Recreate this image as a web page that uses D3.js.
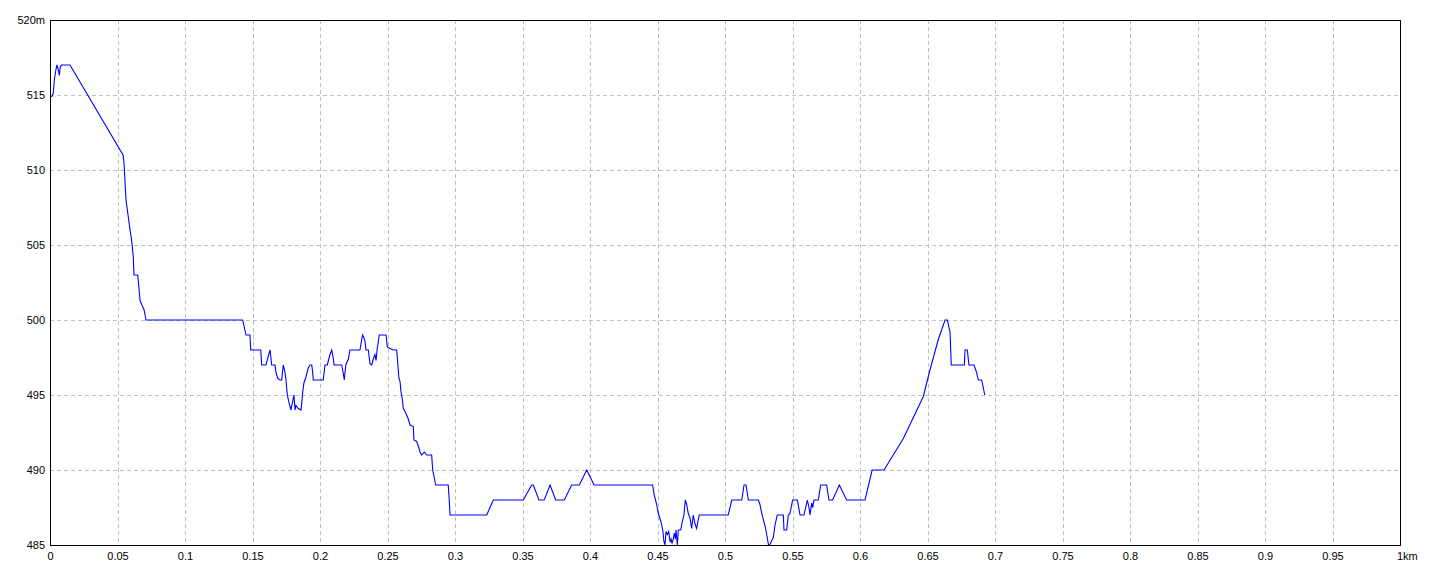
<!DOCTYPE html>
<html>
<head>
<meta charset="utf-8">
<script src="https://cdn.jsdelivr.net/npm/d3@7"></script>
<style>
  html, body { margin: 0; padding: 0; background: #ffffff; }
  svg { display: block; }
  text { font-family: "Liberation Sans", Arial, sans-serif; font-size: 11px; fill: #000; }
</style>
</head>
<body>
<svg id="chart" width="1440" height="576"></svg>
<script>
// ---- data ----
const distanceKm = [
  0.0000, 0.0013, 0.0024, 0.0032, 0.0044, 0.0052, 0.0061, 0.0069, 0.0076, 0.0087, 0.0148,
  0.0541, 0.0548, 0.0563, 0.0578, 0.0593, 0.0605, 0.0617, 0.0622, 0.0650, 0.0667, 0.0681, 0.0696, 0.0711,
  0.1427, 0.1452, 0.1481, 0.1487, 0.1561, 0.1568, 0.1600, 0.1617, 0.1630, 0.1635, 0.1642, 0.1667,
  0.1674, 0.1687, 0.1704, 0.1716, 0.1728, 0.1741, 0.1748, 0.1758, 0.1773, 0.1785, 0.1798, 0.1807,
  0.1815, 0.1822, 0.1839, 0.1859, 0.1864, 0.1872, 0.1881, 0.1896, 0.1913, 0.1926, 0.1939, 0.1946,
  0.1950, 0.2024, 0.2037, 0.2054, 0.2074, 0.2087, 0.2099, 0.2104, 0.2161, 0.2173, 0.2180, 0.2191,
  0.2210, 0.2222, 0.2296, 0.2309, 0.2316, 0.2326, 0.2333, 0.2341, 0.2358, 0.2370, 0.2383, 0.2395,
  0.2407, 0.2415, 0.2424, 0.2439, 0.2489, 0.2499, 0.2519, 0.2543, 0.2568, 0.2576, 0.2585, 0.2593,
  0.2600, 0.2610, 0.2617, 0.2630, 0.2654, 0.2667, 0.2691, 0.2696, 0.2716, 0.2728, 0.2741, 0.2753,
  0.2773, 0.2790, 0.2827, 0.2835, 0.2844, 0.2857, 0.2950, 0.2958, 0.2963, 0.3235, 0.3284, 0.3506,
  0.3568, 0.3580, 0.3622, 0.3661, 0.3704, 0.3746, 0.3810, 0.3864, 0.3921, 0.3976, 0.4030, 0.4464,
  0.4474, 0.4494, 0.4506, 0.4524, 0.4539, 0.4548, 0.4556, 0.4563, 0.4573, 0.4583, 0.4593, 0.4600,
  0.4607, 0.4617, 0.4624, 0.4632, 0.4637, 0.4647, 0.4654, 0.4672, 0.4687, 0.4696, 0.4706, 0.4716,
  0.4728, 0.4741, 0.4753, 0.4765, 0.4778, 0.4790, 0.4802, 0.4810, 0.5024, 0.5050, 0.5124, 0.5141,
  0.5156, 0.5173, 0.5247, 0.5259, 0.5272, 0.5296, 0.5309, 0.5324, 0.5358, 0.5370, 0.5387, 0.5432,
  0.5437, 0.5457, 0.5469, 0.5481, 0.5501, 0.5536, 0.5556, 0.5585, 0.5610, 0.5622, 0.5630, 0.5642,
  0.5650, 0.5659, 0.5691, 0.5709, 0.5753, 0.5770, 0.5797, 0.5847, 0.5901, 0.6037, 0.6090, 0.6178,
  0.6321, 0.6469, 0.6519, 0.6580, 0.6630, 0.6647, 0.6667, 0.6672, 0.6676, 0.6773, 0.6778, 0.6795,
  0.6807, 0.6844, 0.6864, 0.6876, 0.6901, 0.6913, 0.6924
];
const elevationM = [
  514.9, 514.9, 515.1, 516.0, 516.7, 517.0, 516.7, 516.3, 516.9, 517.0, 517.0,
  511.0, 510.5, 508.0, 507.0, 506.0, 505.3, 504.2, 503.0, 503.0, 501.3, 501.0, 500.7, 500.0,
  500.0, 499.0, 499.0, 498.0, 498.0, 497.0, 497.0, 497.6, 498.0, 497.6, 497.0, 497.0,
  496.5, 496.1, 496.0, 496.0, 497.0, 496.5, 496.0, 495.0, 494.4, 494.0, 494.6, 495.0,
  494.0, 494.3, 494.1, 494.0, 494.4, 495.2, 495.8, 496.2, 496.8, 497.0, 497.0, 496.5,
  496.0, 496.0, 497.0, 497.0, 497.7, 498.0, 497.4, 497.0, 497.0, 496.4, 496.0, 497.0,
  497.4, 498.0, 498.0, 498.7, 499.0, 498.8, 498.6, 498.0, 498.0, 497.1, 497.0, 497.4,
  497.7, 497.3, 498.1, 499.0, 499.0, 498.2, 498.1, 498.0, 498.0, 497.1, 496.1, 495.9,
  495.2, 494.7, 494.1, 493.9, 493.4, 493.0, 492.9, 492.0, 491.9, 491.6, 491.2, 491.0,
  491.2, 491.0, 491.0, 490.0, 489.6, 489.0, 489.0, 487.9, 487.0, 487.0, 488.0, 488.0,
  489.0, 489.0, 488.0, 488.0, 489.0, 488.0, 488.0, 489.0, 489.0, 490.0, 489.0, 489.0,
  488.4, 487.7, 487.1, 486.6, 486.0, 485.2, 485.0, 485.9, 485.7, 485.9, 485.2, 485.4,
  485.1, 485.4, 485.8, 485.4, 486.0, 485.0, 486.0, 486.0, 486.7, 487.0, 488.0, 487.7,
  487.1, 486.8, 486.1, 487.0, 486.4, 486.1, 486.7, 487.0, 487.0, 488.0, 488.0, 489.0,
  489.0, 488.0, 488.0, 487.7, 487.1, 486.3, 485.7, 484.9, 485.5, 486.3, 487.0, 487.0,
  486.0, 486.0, 487.0, 487.1, 488.0, 488.0, 487.0, 487.0, 488.0, 487.5, 487.0, 487.8,
  487.5, 488.0, 488.0, 489.0, 489.0, 488.0, 488.0, 489.0, 488.0, 488.0, 490.0, 490.0,
  492.1, 494.9, 496.7, 498.7, 500.0, 500.0, 499.2, 498.0, 497.0, 497.0, 498.0, 498.0,
  497.0, 497.0, 496.5, 496.0, 496.0, 495.5, 495.0
];
const xTickValues = [0, 0.05, 0.1, 0.15, 0.2, 0.25, 0.3, 0.35, 0.4, 0.45, 0.5, 0.55, 0.6, 0.65, 0.7, 0.75, 0.8, 0.85, 0.9, 0.95];
const xTickLabels = ["0", "0.05", "0.1", "0.15", "0.2", "0.25", "0.3", "0.35", "0.4", "0.45", "0.5", "0.55", "0.6", "0.65", "0.7", "0.75", "0.8", "0.85", "0.9", "0.95"];
const xEndLabel = "1km";
const yTickValues = [485, 490, 495, 500, 505, 510, 515];
const yTickLabels = ["485", "490", "495", "500", "505", "510", "515"];
const yTopLabel = "520m";

// ---- layout ----
const mLeft = 50, mRight = 1400, mTop = 20, mBottom = 545;
const svg = d3.select("#chart");
const x = d3.scaleLinear().domain([0, 1]).range([mLeft, mRight]);
const y = d3.scaleLinear().domain([485, 520]).range([mBottom, mTop]);

svg.append("rect").attr("x", 0).attr("y", 0).attr("width", 1440).attr("height", 576).attr("fill", "#fff");

// grid
const grid = svg.append("g").attr("shape-rendering", "crispEdges");
grid.selectAll("line.vg").data(xTickValues.filter(v => v > 0)).enter().append("line")
  .attr("x1", d => Math.round(x(d)) + 0.5).attr("x2", d => Math.round(x(d)) + 0.5)
  .attr("y1", mTop).attr("y2", mBottom)
  .attr("stroke", "#c0c0c0").attr("stroke-width", 1).attr("stroke-dasharray", "4,3");
grid.selectAll("line.hg").data(yTickValues.filter(v => v > 485)).enter().append("line")
  .attr("y1", d => Math.round(y(d)) + 0.5).attr("y2", d => Math.round(y(d)) + 0.5)
  .attr("x1", mLeft).attr("x2", mRight)
  .attr("stroke", "#c0c0c0").attr("stroke-width", 1).attr("stroke-dasharray", "4,3");

// clip
svg.append("clipPath").attr("id", "plotclip").append("rect")
  .attr("x", mLeft).attr("y", mTop).attr("width", mRight - mLeft).attr("height", mBottom - mTop + 1);

// line
const pts = distanceKm.map((d, i) => [d, elevationM[i]]);
const line = d3.line().x(d => x(d[0])).y(d => y(d[1]));
svg.append("path").datum(pts)
  .attr("clip-path", "url(#plotclip)")
  .attr("d", line).attr("fill", "none").attr("stroke", "#0000ff").attr("stroke-width", 1.1);

// frame
const frame = svg.append("g").attr("shape-rendering", "crispEdges");
frame.append("rect").attr("x", mLeft + 0.5).attr("y", mTop + 0.5)
  .attr("width", mRight - mLeft).attr("height", mBottom - mTop)
  .attr("fill", "none").attr("stroke", "#000").attr("stroke-width", 1);

// x axis labels
const xa = svg.append("g");
xa.selectAll("text").data(xTickValues).enter().append("text")
  .attr("x", d => x(d) + 0.5).attr("y", 560).attr("text-anchor", "middle")
  .text((d, i) => xTickLabels[i]);
xa.append("text").attr("x", x(1) - 3).attr("y", 560).attr("text-anchor", "start").text(xEndLabel);

// y axis labels
const ya = svg.append("g");
ya.selectAll("text").data(yTickValues).enter().append("text")
  .attr("x", 45).attr("y", d => y(d) + 4).attr("text-anchor", "end")
  .text((d, i) => yTickLabels[i]);
ya.append("text").attr("x", 45).attr("y", y(520) + 4).attr("text-anchor", "end").text(yTopLabel);
</script>
</body>
</html>
